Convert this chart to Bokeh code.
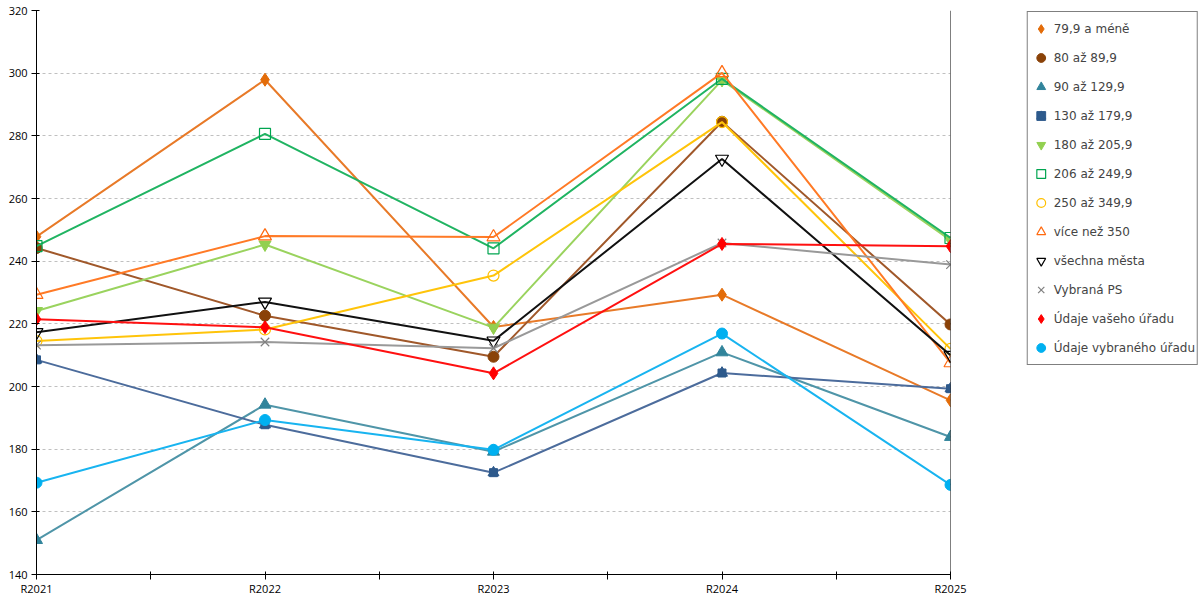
from bokeh.plotting import figure
from bokeh.layouts import row
from bokeh.models import Range1d, FixedTicker, Span, Legend, LegendItem, ColumnDataSource
from bokeh.embed import file_html
from bokeh.resources import INLINE

categories = ["R2021", "R2022", "R2023", "R2024", "R2025"]
y_ticks = [140, 160, 180, 200, 220, 240, 260, 280, 300, 320]

names = ["79,9 a méně", "80 až 89,9", "90 až 129,9", "130 až 179,9", "180 až 205,9",
         "206 až 249,9", "250 až 349,9", "více než 350", "všechna města", "Vybraná PS",
         "Údaje vašeho úřadu", "Údaje vybraného úřadu"]

v_79 = [247.8, 297.9, 219.0, 229.3, 195.6]
v_80 = [244.2, 222.6, 209.5, 284.5, 219.8]
v_90 = [151.0, 194.2, 179.2, 210.9, 183.9]
v_130 = [208.5, 187.8, 172.5, 204.3, 199.3]
v_180 = [224.1, 245.3, 218.8, 297.8, 246.7]
v_206 = [244.8, 280.6, 244.1, 298.2, 247.4]
v_250 = [214.5, 218.2, 235.4, 284.4, 212.0]
v_350 = [229.3, 248.0, 247.7, 300.1, 207.5]
v_all = [217.3, 227.0, 214.6, 272.6, 210.0]
v_ps = [213.2, 214.2, 212.2, 245.8, 238.9]
v_office = [221.5, 218.9, 204.2, 245.5, 244.8]
v_selected = [169.3, 189.3, 179.8, 216.9, 168.6]

values = [v_79, v_80, v_90, v_130, v_180, v_206, v_250, v_350, v_all, v_ps, v_office, v_selected]

# style per series: line colour, list of (marker, size, fill, outline)
styles = [
    ("#E87A28", [("diamond", 13, "#E36C09", "#E36C09")]),
    ("#A0582A", [("circle", 11, "#8A4208", "#8A4208")]),
    ("#4F95A8", [("triangle", 12, "#31849B", "#31849B")]),
    ("#4C6C9C", [("square", 8, "#2E5A8C", "#2E5A8C"), ("triangle", 11, "#2E5A8C", "#2E5A8C")]),
    ("#9AD35E", [("inverted_triangle", 12, "#92D050", "#92D050")]),
    ("#20B462", [("square", 11, None, "#00A550")]),
    ("#FFC40A", [("circle", 11, None, "#FFC000")]),
    ("#FF7A26", [("triangle", 13, None, "#FF6A10")]),
    ("#111111", [("inverted_triangle", 13, None, "#000000")]),
    ("#999999", [("x", 12, None, "#808080")]),
    ("#FF1010", [("diamond", 13, "#FF0000", "#FF0000")]),
    ("#18B4F0", [("circle", 11, "#00B0F0", "#00B0F0")]),
]

xs = list(range(len(categories)))

p = figure(frame_width=914, frame_height=564, output_backend="svg", toolbar_location=None,
           x_range=Range1d(0, len(categories) - 1), y_range=Range1d(y_ticks[0], y_ticks[-1]),
           min_border_left=36, min_border_top=10, min_border_right=20, min_border_bottom=0)
p.outline_line_color = None
p.background_fill_color = "white"

# separate panel holding the legend (keeps it outside the plotting frame);
# its ranges are far from the data, so only the legend is visible there
lf = figure(width=229, height=596, output_backend="svg", toolbar_location=None, title=None,
            x_axis_type=None, y_axis_type=None, min_border=0,
            min_border_top=0, min_border_left=0, min_border_right=0, min_border_bottom=0,
            x_range=Range1d(-20, -19), y_range=Range1d(-20, -19))
lf.outline_line_color = None
lf.xgrid.visible = False
lf.ygrid.visible = False

items = []
for name, vals, (lc, marks) in zip(names, values, styles):
    src = ColumnDataSource(dict(x=xs, y=vals))
    p.line("x", "y", source=src, line_color=lc, line_width=2)
    rs = []
    for (m, s, fc, oc) in marks:
        kw = dict(marker=m, size=s, fill_color=fc, line_color=oc,
                  line_width=1.2 if fc is None else 1)
        p.scatter("x", "y", source=src, **kw)
        rs.append(lf.scatter("x", "y", source=src, **kw))
    items.append(LegendItem(label=name, renderers=rs))

p.add_layout(Span(location=len(categories) - 1, dimension="height", line_color="black", line_width=1))

# axes
xa = p.xaxis[0]
xa.ticker = FixedTicker(ticks=xs, minor_ticks=[i + 0.5 for i in xs[:-1]])
xa.major_label_overrides = {i: c for i, c in zip(xs, categories)}
for ax in (p.xaxis[0], p.yaxis[0]):
    ax.axis_line_color = "black"
    ax.major_tick_line_color = "black"
    ax.minor_tick_line_color = "black"
    ax.major_tick_in = 3
    ax.major_tick_out = 5
    ax.minor_tick_in = 3
    ax.minor_tick_out = 5
    ax.major_label_text_font = "Open Sans"
    ax.major_label_text_font_size = "11px"
    ax.major_label_text_color = "black"
xa.major_label_standoff = 1
ya = p.yaxis[0]
ya.ticker = FixedTicker(ticks=y_ticks, minor_ticks=[])
ya.major_label_standoff = 4

p.xgrid.grid_line_color = None
p.ygrid.grid_line_color = "#C0C0C0"
p.ygrid.grid_line_dash = "3 3"
p.ygrid.grid_line_width = 1

legend = Legend(items=items, location="top_right", margin=1, padding=2, spacing=0,
                glyph_width=22, glyph_height=29, label_height=29, label_standoff=2,
                label_text_font="DejaVu Sans", label_text_font_size="12px",
                border_line_color="black", border_line_width=1,
                background_fill_color="white", background_fill_alpha=1)
lf.add_layout(legend)

layout = row(p, lf, spacing=0)
open("out.html", "w").write(file_html(layout, INLINE))
